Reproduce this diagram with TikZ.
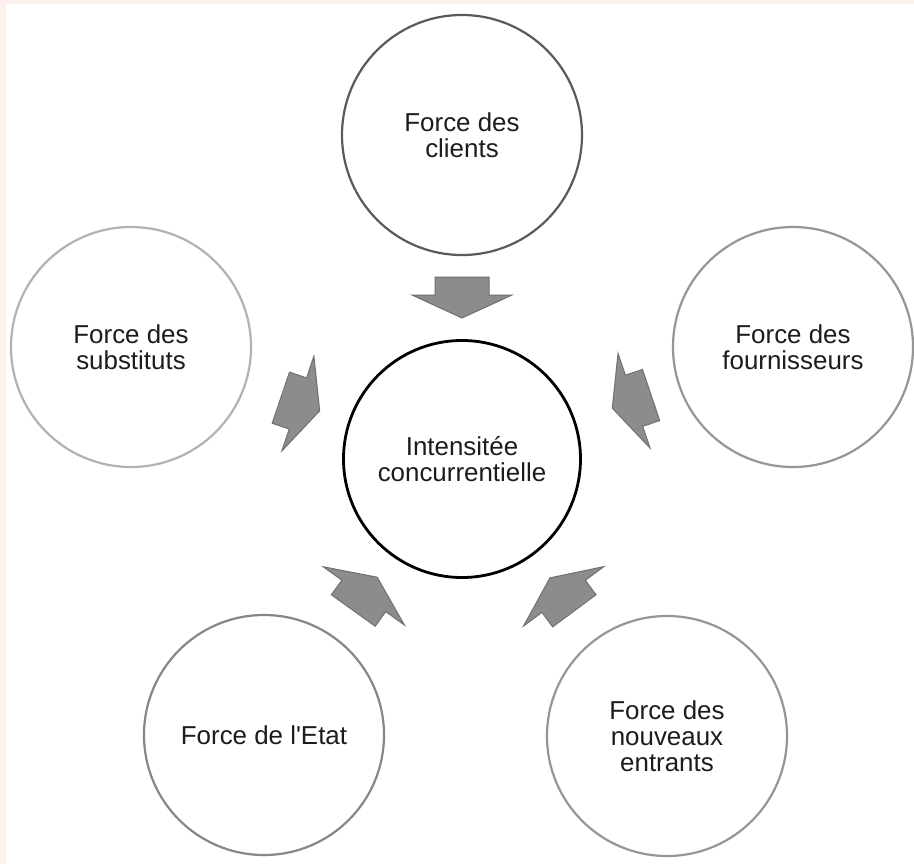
\documentclass[tikz,border=0pt]{standalone}
\usepackage{fontspec}
\setmainfont{Liberation Sans}
\usetikzlibrary{decorations.markings}
\definecolor{pinkbg}{RGB}{252,241,236}
\definecolor{txt}{RGB}{28,28,28}
\definecolor{arrfill}{RGB}{140,140,140}
\definecolor{arrdraw}{RGB}{112,112,112}
\tikzset{
  force/.style={circle, draw, line width=2.2bp, minimum size=240bp, inner sep=0pt,
    align=center, text=txt, font=\fontsize{26}{26}\selectfont},
  blockarrow/.style={fill=arrfill, draw=arrdraw, line width=1bp, line join=miter},
  pushes/.style={decorate, decoration={markings, mark=at position #1 with {
    \filldraw[blockarrow] (-20,-27) -- (-2,-27) -- (-2,-50) -- (21,0) -- (-2,50) -- (-2,27) -- (-20,27) -- cycle;}}}
}
\begin{document}
\begin{tikzpicture}[x=1bp, y=-1bp]
\useasboundingbox (0,0) rectangle (914,864);
\fill[white] (0,0) rectangle (914,864);
\fill[pinkbg] (0,0) rectangle (6,864);
\fill[pinkbg] (0,0) rectangle (914,4);

\node[force, draw={rgb,255:red,90;green,90;blue,90}] (cli) at (462,135) {Force des\\clients};
\node[force, draw={rgb,255:red,178;green,178;blue,178}] (sub) at (131,347) {Force des\\substituts};
\node[force, draw={rgb,255:red,150;green,150;blue,150}] (fou) at (793,347) {Force des\\fournisseurs};
\node[force, draw={rgb,255:red,135;green,135;blue,135}] (eta) at (264,735) {Force de l\textquotesingle Etat};
\node[force, draw={rgb,255:red,150;green,150;blue,150}] (nou) at (667,736) {Force des\\nouveaux\\entrants};
\node[force, draw=black, line width=2.8bp, minimum size=237bp] (ctr) at (462,459) {Intensitée\\concurrentielle};

\path[pushes=0.5] (cli.center) -- (ctr.center);
\path[pushes=0.51] (sub.center) -- (ctr.center);
\path[pushes=0.486] (fou.center) -- (ctr.center);
\path[pushes=0.51] (eta.center) -- (ctr.center);
\path[pushes=0.51] (nou.center) -- (ctr.center);
\end{tikzpicture}
\end{document}
